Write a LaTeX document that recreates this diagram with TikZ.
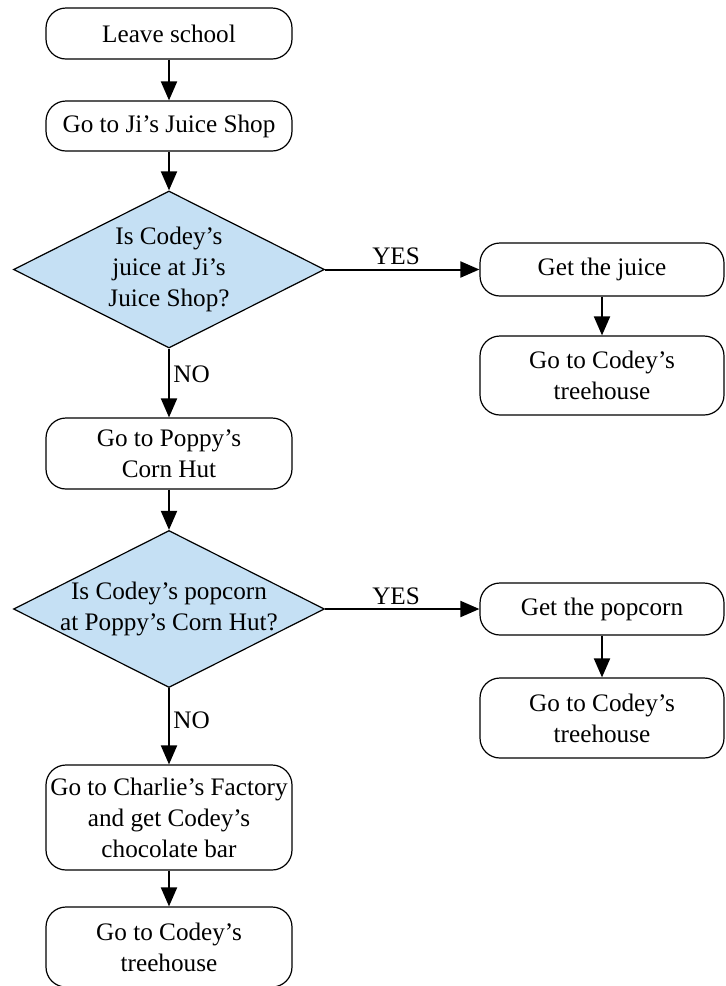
\documentclass[tikz,border=0pt]{standalone}
\usepackage{fontspec}
\setmainfont{Liberation Serif}
\usetikzlibrary{shapes.geometric,arrows.meta}
\definecolor{qblue}{RGB}{197,224,244}
\begin{document}
\begin{tikzpicture}[x=1pt, y=-1pt,
		every node/.style={font=\fontsize{25.2}{31}\selectfont},
		stepbox/.style={draw, line width=1.2pt, rounded corners=20pt, minimum width=246pt, inner sep=2pt, align=center},
		decision/.style={draw, line width=1.2pt, fill=qblue, diamond, aspect=1.98, minimum width=311pt, minimum height=157pt, inner sep=0pt},
		qtext/.style={align=center, inner sep=0pt},
		flow/.style={line width=2pt, -{Triangle[length=19pt, width=16pt]}}]
		\useasboundingbox (0,0) rectangle (726,986);

		\node[stepbox, minimum height=51pt] (leave) at (169,33.5) {Leave school};
		\node[stepbox, minimum height=50pt] (jishop) at (169,126) {Go to Ji’s Juice Shop};
		\node[decision] (q1) at (169,269.5) {};
		\node[qtext] (q1text) at (q1) {Is Codey’s\\juice at Ji’s\\Juice Shop?};
		\node[stepbox, minimum width=244pt, minimum height=53pt] (getjuice) at (602,269.5) {Get the juice};
		\node[stepbox, minimum width=244pt, minimum height=79pt] (tree1) at (602,375.5) {Go to Codey’s\\treehouse};
		\node[stepbox, minimum height=71pt] (poppy) at (169,453.5) {Go to Poppy’s\\Corn Hut};
		\node[decision] (q2) at (169,609) {};
		\node[qtext] (q2text) at (q2) {Is Codey’s popcorn\\at Poppy’s Corn Hut?};
		\node[stepbox, minimum width=244pt, minimum height=52pt] (getpop) at (602,609) {Get the popcorn};
		\node[stepbox, minimum width=244pt, minimum height=80pt] (tree2) at (602,718) {Go to Codey’s\\treehouse};
		\node[stepbox, minimum height=105pt] (charlie) at (169,817.5) {Go to Charlie’s Factory\\and get Codey’s\\chocolate bar};
		\node[stepbox, minimum height=80pt] (tree3) at (169,947) {Go to Codey’s\\treehouse};

		\draw[flow] (leave) -- (jishop);
		\draw[flow] (jishop) -- (q1);
		\draw[flow] (q1) -- (getjuice) node[above, pos=0.46]{YES};
		\draw[flow] (getjuice) -- (tree1);
		\draw[flow] (q1) -- (poppy) node[right, pos=0.38]{NO};
		\draw[flow] (poppy) -- (q2);
		\draw[flow] (q2) -- (getpop) node[above, pos=0.46]{YES};
		\draw[flow] (getpop) -- (tree2);
		\draw[flow] (q2) -- (charlie) node[right, pos=0.42]{NO};
		\draw[flow] (charlie) -- (tree3);
	\end{tikzpicture}
\end{document}
